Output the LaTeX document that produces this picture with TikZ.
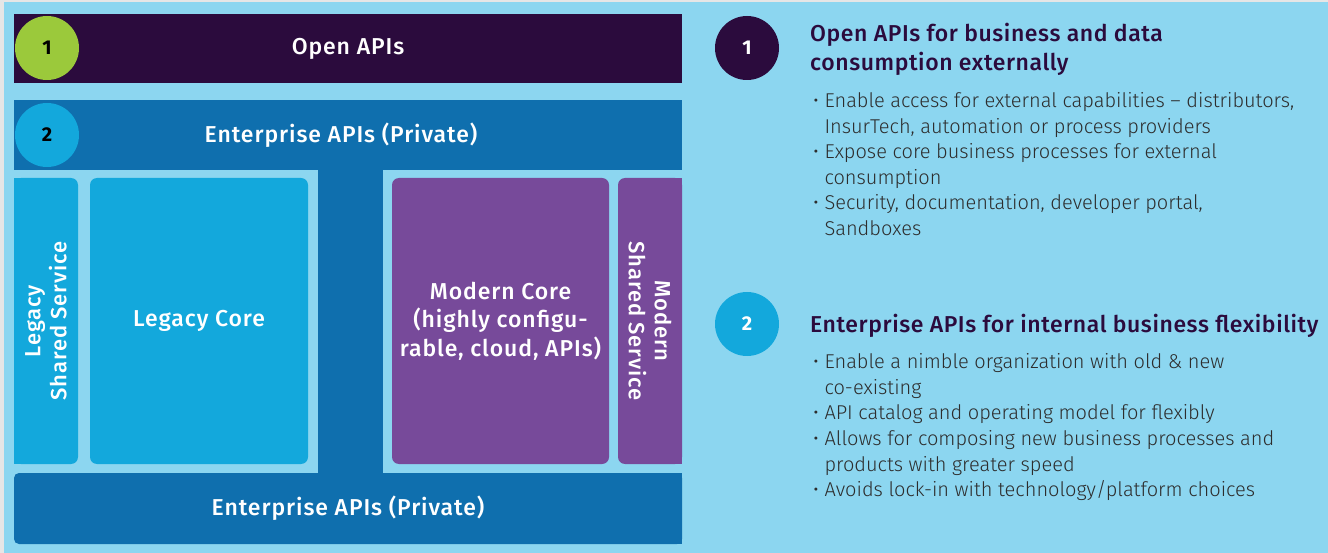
\documentclass[tikz,border=0pt]{standalone}
\usepackage{fontspec}
\setmainfont{Fira Sans}
\IfFontExistsTF{Fira Sans Light}
	{\newfontfamily\lightfont{Fira Sans Light}}
	{\newfontfamily\lightfont{Fira Sans}}
\IfFontExistsTF{Fira Sans Medium}
	{\newfontfamily\medfont{Fira Sans Medium}[LetterSpace=4]
	 \newfontfamily\headfont{Fira Sans Medium}[LetterSpace=2.5]}
	{\newfontfamily\medfont{Fira Sans}[FakeBold=0.8, LetterSpace=4]
	 \newfontfamily\headfont{Fira Sans}[FakeBold=0.8, LetterSpace=2.5]}

\definecolor{paleblue}{RGB}{140,214,240}
\definecolor{edgegray}{RGB}{230,230,230}
\definecolor{nightpurple}{RGB}{43,11,61}
\definecolor{limegreen}{RGB}{155,201,59}
\definecolor{deepblue}{RGB}{15,111,174}
\definecolor{skyblue}{RGB}{19,168,220}
\definecolor{violet}{RGB}{119,74,154}
\definecolor{bodygray}{RGB}{45,45,45}

\begin{document}
\begin{tikzpicture}[x=1pt, y=-1pt,
	bar/.style={inner sep=0pt, text=white, font=\fontsize{23}{26}\medfont},
	box/.style={rounded corners=7pt, inner sep=0pt, text=white, align=center, font=\fontsize{23}{28.5}\medfont},
	sidebox/.style={box, font=\fontsize{22}{26}\medfont},
	numdot/.style={circle, minimum size=64pt, inner sep=0pt, font=\fontsize{20}{20}\selectfont\bfseries},
	headline/.style={anchor=base west, align=left, inner sep=0pt, text=nightpurple, font=\fontsize{23}{29}\headfont},
	point/.style={anchor=base west, align=left, inner sep=0pt, text=bodygray, font=\fontsize{20}{25.6}\lightfont}]
	\fill[paleblue] (0,0) rectangle (1328,553);
	\fill[edgegray] (0,0) rectangle (1328,2.5);
	\fill[edgegray] (0,0) rectangle (4,553);
	\useasboundingbox (0,0) rectangle (1328,553);

	\node[bar, fill=nightpurple, minimum width=668pt, minimum height=69pt] (open) at (348,48.5) {Open APIs};
	\node[bar, fill=deepblue, minimum width=668pt, minimum height=70pt] (enttop) at (348,135) {Enterprise APIs (Private)\hspace*{14pt}};
	\fill[deepblue] (318,169) rectangle (383,474);
	\fill[deepblue] (300,473) rectangle (682,544);
	\node[bar, fill=deepblue, rounded corners=5pt, minimum width=668pt, minimum height=71pt] (entbot) at (348,508.5) {Enterprise APIs (Private)};

	\fill[skyblue] (14,178) rectangle (40,464);
	\node[sidebox, fill=skyblue, minimum width=286pt, minimum height=64pt, rotate=90] (lss) at (46,321) {Legacy\\Shared Service};
	\node[box, fill=skyblue, minimum width=218pt, minimum height=286pt] (lcore) at (199,321) {Legacy Core};
	\node[box, fill=violet, minimum width=217pt, minimum height=286pt] (mcore) at (500.5,321) {Modern Core\\(highly configu-\\rable, cloud, APIs)};
	\fill[violet] (660,178) rectangle (682,464);
	\node[sidebox, fill=violet, minimum width=286pt, minimum height=64pt, rotate=-90] (mss) at (650,321) {Modern\\Shared Service};

	\node[numdot, fill=limegreen, text=black] (n1) at (47,48) {1};
	\node[numdot, fill=skyblue, text=black] (n2) at (47,135) {2};
	\node[numdot, fill=nightpurple, text=white] (k1) at (747,48) {1};
	\node[numdot, fill=skyblue, text=white] (k2) at (747,324) {2};

	\node[headline] (h1) at (810,71) {Open APIs for business and data\\consumption externally};
	\node[point] (p11) at (813,133.5) {\textbullet\ Enable access for external capabilities \textendash\ distributors,\\\hphantom{\textbullet\ }InsurTech, automation or process providers};
	\node[point] (p12) at (813,184.5) {\textbullet\ Expose core business processes for external\\\hphantom{\textbullet\ }consumption};
	\node[point] (p13) at (813,235.5) {\textbullet\ Security, documentation, developer portal,\\\hphantom{\textbullet\ }Sandboxes};

	\node[headline] (h2) at (810,332.5) {Enterprise APIs for internal business flexibility};
	\node[point] (p21) at (813,394) {\textbullet\ Enable a nimble organization with old \& new\\\hphantom{\textbullet\ }co-existing};
	\node[point] (p22) at (813,419.5) {\textbullet\ API catalog and operating model for flexibly};
	\node[point] (p23) at (813,471) {\textbullet\ Allows for composing new business processes and\\\hphantom{\textbullet\ }products with greater speed};
	\node[point] (p24) at (813,496.5) {\textbullet\ Avoids lock-in with technology/platform choices};
\end{tikzpicture}
\end{document}
